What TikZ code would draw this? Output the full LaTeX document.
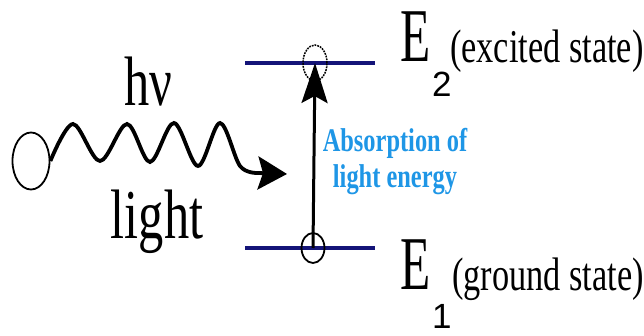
\documentclass[tikz,border=0pt]{standalone}
\usepackage{fontspec}
\setmainfont{Liberation Serif}
\newfontfamily\subfont{Liberation Sans}
\usetikzlibrary{arrows.meta,shapes.geometric}

\definecolor{levelblue}{RGB}{20,20,120}
\definecolor{textblue}{RGB}{30,150,230}

\begin{document}
\begin{tikzpicture}[x=1pt,y=-1pt,>=Stealth,
    level/.style={levelblue,line width=4.5pt},
    blob/.style={draw,ellipse,line width=1.8pt,inner sep=0pt},
    wave/.style={line width=3.8pt,-{Stealth[length=29pt,width=33pt,inset=5pt]}},
    absorb/.style={line width=3pt,-{Stealth[length=40pt,width=26pt,inset=7pt]}},
    bigtext/.style={font=\fontsize{70}{84}\selectfont,xscale=0.72,inner sep=0pt},
    etext/.style={font=\fontsize{76}{84}\selectfont,xscale=0.65,inner sep=0pt,anchor=base west},
    statetext/.style={font=\fontsize{47}{54}\selectfont,xscale=0.73,inner sep=0pt,anchor=base west},
    subtext/.style={font=\subfont\fontsize{35}{40}\selectfont,inner sep=0pt,anchor=base west}]
    \useasboundingbox (0,0) rectangle (644,336);

    % photon coming in from the left
    \node[blob,minimum width=37pt,minimum height=57pt] (src) at (31,161) {};
    \coordinate (hit) at (287,174);
    \draw[wave] plot[smooth,tension=0.55] coordinates {(src.east) (73,124)
        (100,161) (127,124) (150,162) (174,123) (198,166) (220,123)
        (240,166) (258,173)} -- (hit);
    \node[bigtext] (hnu) at (148,82) {hν};
    \node[bigtext] (light) at (157,222) {light};

    % the two levels
    \draw[level] (245,63) -- (375,63);
    \draw[level] (245,248) -- (375,248);
    \node[blob,densely dotted,line width=1.5pt,minimum width=24pt,minimum height=36pt] (up) at (315,63) {};
    \node[blob,minimum width=23pt,minimum height=30pt] (down) at (313,248) {};
    \draw[absorb] (down.center) -- (up.center);

    \node[font=\bfseries\fontsize{33}{36}\selectfont,textblue,align=center,xscale=0.74,inner sep=0pt]
        (abs) at (395,162) {Absorption of\\light energy};

    % level labels
    \node[etext] (E2) at (400,62) {E};
    \node[statetext] (exc) at (450,63) {(excited state)};
    \node[subtext] (two) at (432,97) {2};
    \node[etext] (E1) at (400,289) {E};
    \node[statetext] (gnd) at (452,290) {(ground state)};
    \node[subtext] (one) at (432,328) {1};
\end{tikzpicture}
\end{document}
